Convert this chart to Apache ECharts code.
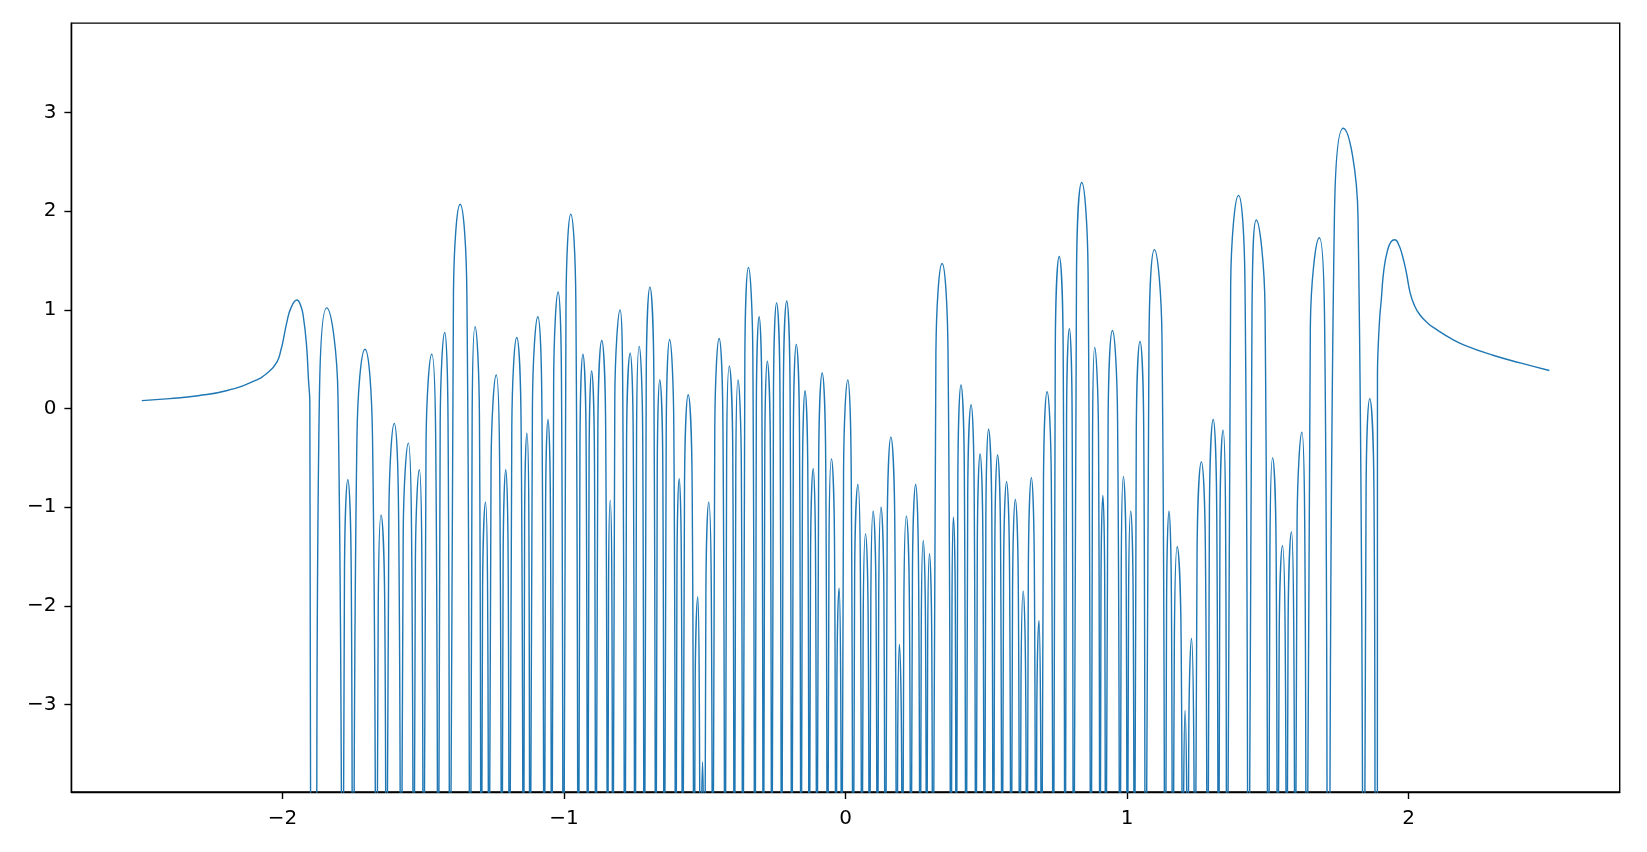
<!DOCTYPE html>
<html>
<head>
<meta charset="utf-8">
<script src="https://cdn.jsdelivr.net/npm/echarts@6/dist/echarts.min.js"></script>
<style>
html,body{margin:0;padding:0;background:#fff;}
#chart{width:1647px;height:852px;}
</style>
</head>
<body>
<div id="chart"></div>
<script>
// Tick labels
const xTicks = [-2, -1, 0, 1, 2];
const yTicks = [-3, -2, -1, 0, 1, 2, 3];

// Curve points [x, y] (dips below the axis drawn at -6)
const leftTail = [
  [-2.5,0.08],[-2.4,0.10],[-2.3,0.13],[-2.2,0.18],[-2.1,0.28],[-2.05,0.37],[-2.02,0.47],
  [-2.005,0.60],[-1.997,0.70],[-1.985,0.87],[-1.97,1.02],[-1.949,1.10],[-1.935,1.04],
  [-1.926,0.93],[-1.915,0.65],[-1.908,0.30],[-1.903,0.05],[-1.899,-6]
];
const lobes1 = [
  [-1.886,-6],[-1.869,0.12],[-1.843,1.02],[-1.803,0.12],
  [-1.786,-6],[-1.7799,-1.62],[-1.768,-0.72],[-1.7561,-1.62],
  [-1.750,-6],[-1.7357,-0.30],[-1.707,0.60],[-1.6803,-0.30],
  [-1.666,-6],[-1.660,-1.98],[-1.650,-1.08],[-1.637,-1.98],
  [-1.631,-6],[-1.6222,-1.05],[-1.603,-0.15],[-1.5878,-1.05],
  [-1.579,-6],[-1.5713,-1.25],[-1.553,-0.35],[-1.5417,-1.25],
  [-1.534,-6],[-1.528,-1.52],[-1.514,-0.62],[-1.505,-1.52],
  [-1.499,-6],[-1.4902,-0.35],[-1.470,0.55],[-1.4558,-0.35],
  [-1.447,-6],[-1.4399,-0.13],[-1.424,0.77],[-1.4121,-0.13],
  [-1.405,-6],[-1.3928,1.17],[-1.369,2.07],[-1.3452,1.17],
  [-1.333,-6],[-1.3264,-0.07],[-1.316,0.83],[-1.3006,-0.07],
  [-1.294,-6],[-1.2894,-1.85],[-1.279,-0.95],[-1.2716,-1.85],
  [-1.267,-6],[-1.2592,-0.56],[-1.241,0.34],[-1.2288,-0.56],
  [-1.221,-6],[-1.2164,-1.52],[-1.207,-0.62],[-1.1986,-1.52],
  [-1.194,-6],[-1.1855,-0.18],[-1.168,0.72],[-1.1525,-0.18],
  [-1.144,-6],[-1.1401,-1.15],[-1.132,-0.25],[-1.1249,-1.15],
  [-1.121,-6],[-1.1123,0.03],[-1.093,0.93],[-1.0787,0.03],
  [-1.070,-6],[-1.0656,-1.01],[-1.057,-0.11],[-1.0484,-1.01],
  [-1.044,-6],[-1.0369,0.28],[-1.021,1.18],[-1.0091,0.28]
];
const lobes2 = [
  [-1.002,-6],[-0.993,1.07],[-0.976,1.97],[-0.958,1.07],
  [-0.949,-6],[-0.9434,-0.35],[-0.933,0.55],[-0.9216,-0.35],
  [-0.916,-6],[-0.9111,-0.52],[-0.902,0.38],[-0.8919,-0.52],
  [-0.887,-6],[-0.8799,-0.21],[-0.866,0.69],[-0.8521,-0.21],
  [-0.845,-6],[-0.8419,-1.83],[-0.836,-0.93],[-0.8301,-1.83],
  [-0.827,-6],[-0.8197,0.10],[-0.801,1.00],[-0.7913,0.10],
  [-0.784,-6],[-0.7779,-0.34],[-0.765,0.56],[-0.7541,-0.34],
  [-0.748,-6],[-0.7424,-0.27],[-0.733,0.63],[-0.7206,-0.27],
  [-0.715,-6],[-0.708,0.33],[-0.695,1.23],[-0.681,0.33],
  [-0.674,-6],[-0.6689,-0.61],[-0.660,0.29],[-0.6491,-0.61],
  [-0.644,-6],[-0.637,-0.20],[-0.625,0.70],[-0.610,-0.20],
  [-0.603,-6],[-0.5989,-1.61],[-0.591,-0.71],[-0.5831,-1.61],
  [-0.579,-6],[-0.572,-0.76],[-0.559,0.14],[-0.545,-0.76],
  [-0.538,-6],[-0.5343,-2.81],[-0.525,-1.91],[-0.5197,-2.81],
  [-0.516,-6],[-0.5134,-4.48],[-0.508,-3.58],[-0.5036,-4.48],
  [-0.501,-6],[-0.4961,-1.85],[-0.486,-0.95],[-0.4769,-1.85],
  [-0.472,-6],[-0.4645,-0.19],[-0.449,0.71],[-0.4355,-0.19],
  [-0.428,-6],[-0.4224,-0.47],[-0.413,0.43],[-0.4006,-0.47],
  [-0.395,-6],[-0.3899,-0.61],[-0.382,0.29],[-0.3701,-0.61],
  [-0.365,-6],[-0.3577,0.53],[-0.345,1.43],[-0.3293,0.53],
  [-0.322,-6],[-0.3169,0.03],[-0.307,0.93],[-0.2971,0.03]
];
const lobes3 = [
  [-0.292,-6],[-0.2869,-0.42],[-0.278,0.48],[-0.2671,-0.42],
  [-0.262,-6],[-0.256,0.17],[-0.245,1.07],[-0.233,0.17],
  [-0.227,-6],[-0.2209,0.19],[-0.209,1.09],[-0.1971,0.19],
  [-0.191,-6],[-0.1854,-0.25],[-0.175,0.65],[-0.1636,-0.25],
  [-0.158,-6],[-0.1531,-0.72],[-0.144,0.18],[-0.1339,-0.72],
  [-0.129,-6],[-0.1244,-1.51],[-0.115,-0.61],[-0.1066,-1.51],
  [-0.102,-6],[-0.0955,-0.54],[-0.083,0.36],[-0.0705,-0.54],
  [-0.064,-6],[-0.0589,-1.41],[-0.050,-0.51],[-0.0391,-1.41],
  [-0.034,-6],[-0.0306,-2.72],[-0.023,-1.82],[-0.0174,-2.72],
  [-0.014,-6],[-0.007,-0.61],[0.008,0.29],[0.020,-0.61],
  [0.027,-6],[0.0323,-1.67],[0.044,-0.77],[0.0527,-1.67],
  [0.058,-6],[0.0626,-2.17],[0.071,-1.27],[0.0804,-2.17],
  [0.085,-6],[0.0898,-1.94],[0.098,-1.04],[0.1082,-1.94],
  [0.113,-6],[0.1178,-1.90],[0.126,-1.00],[0.1362,-1.90],
  [0.141,-6],[0.148,-1.19],[0.161,-0.29],[0.175,-1.19],
  [0.182,-6],[0.1854,-3.29],[0.191,-2.39],[0.1986,-3.29],
  [0.202,-6],[0.2071,-1.99],[0.216,-1.09],[0.2269,-1.99],
  [0.232,-6],[0.2376,-1.67],[0.249,-0.77],[0.2594,-1.67],
  [0.265,-6],[0.2689,-2.24],[0.276,-1.34],[0.2841,-2.24],
  [0.288,-6],[0.2917,-2.37],[0.298,-1.47],[0.3063,-2.37],
  [0.310,-6],[0.321,0.57],[0.343,1.47],[0.364,0.57],
  [0.375,-6],[0.3781,-2.00],[0.383,-1.10],[0.3899,-2.00]
];
const lobes4 = [
  [0.393,-6],[0.399,-0.66],[0.410,0.24],[0.422,-0.66],
  [0.428,-6],[0.434,-0.86],[0.446,0.04],[0.457,-0.86],
  [0.463,-6],[0.4681,-1.36],[0.478,-0.46],[0.4879,-1.36],
  [0.493,-6],[0.4984,-1.11],[0.508,-0.21],[0.5196,-1.11],
  [0.525,-6],[0.5303,-1.37],[0.540,-0.47],[0.5507,-1.37],
  [0.556,-6],[0.5614,-1.64],[0.572,-0.74],[0.5826,-1.64],
  [0.588,-6],[0.5933,-1.82],[0.603,-0.92],[0.6137,-1.82],
  [0.619,-6],[0.6233,-2.75],[0.631,-1.85],[0.6397,-2.75],
  [0.644,-6],[0.6494,-1.60],[0.660,-0.70],[0.6706,-1.60],
  [0.676,-6],[0.6794,-3.05],[0.687,-2.15],[0.6926,-3.05],
  [0.696,-6],[0.7031,-0.73],[0.716,0.17],[0.7309,-0.73],
  [0.738,-6],[0.7451,0.64],[0.759,1.54],[0.7729,0.64],
  [0.780,-6],[0.7851,-0.09],[0.795,0.81],[0.8049,-0.09],
  [0.810,-6],[0.8205,1.39],[0.839,2.29],[0.8615,1.39],
  [0.872,-6],[0.8774,-0.28],[0.885,0.62],[0.8986,-0.28],
  [0.904,-6],[0.9074,-1.78],[0.914,-0.88],[0.9206,-1.78],
  [0.924,-6],[0.9327,-0.11],[0.948,0.79],[0.9663,-0.11],
  [0.975,-6],[0.9794,-1.59],[0.987,-0.69],[0.9966,-1.59],
  [1.001,-6],[1.0053,-1.94],[1.013,-1.04],[1.0217,-1.94],
  [1.026,-6],[1.0328,-0.22],[1.046,0.68],[1.0592,-0.22]
];
const lobes5 = [
  [1.066,-6],[1.0779,0.71],[1.097,1.61],[1.1241,0.71],
  [1.136,-6],[1.1404,-1.94],[1.149,-1.04],[1.1576,-1.94],
  [1.162,-6],[1.1681,-2.30],[1.178,-1.40],[1.1919,-2.30],
  [1.198,-6],[1.2009,-3.96],[1.206,-3.06],[1.2121,-3.96],
  [1.215,-6],[1.2194,-3.23],[1.229,-2.33],[1.2366,-3.23],
  [1.241,-6],[1.2487,-1.44],[1.264,-0.54],[1.2783,-1.44],
  [1.286,-6],[1.2926,-1.01],[1.306,-0.11],[1.3184,-1.01],
  [1.325,-6],[1.3301,-1.12],[1.341,-0.22],[1.3499,-1.12],
  [1.355,-6],[1.3681,1.26],[1.396,2.16],[1.4189,1.26],
  [1.432,-6],[1.4439,1.01],[1.459,1.91],[1.4901,1.01],
  [1.502,-6],[1.5076,-1.40],[1.517,-0.50],[1.5294,-1.40],
  [1.535,-6],[1.5404,-2.29],[1.552,-1.39],[1.5616,-2.29],
  [1.567,-6],[1.5721,-2.15],[1.584,-1.25],[1.5919,-2.15],
  [1.597,-6],[1.604,-1.14],[1.621,-0.24],[1.631,-1.14],
  [1.638,-6],[1.6511,0.83],[1.683,1.73],[1.7019,0.83],
  [1.715,-6],[1.7366,1.94],[1.768,2.84],[1.8204,1.94],
  [1.842,-6],[1.8491,-0.80],[1.862,0.10],[1.8769,-0.80]
];
const rightTail = [
  [1.884,-6],[1.889,-6],[1.8895,0.33],[1.891,0.55],[1.897,0.90],[1.903,1.10],[1.912,1.40],
  [1.925,1.60],[1.938,1.69],[1.951,1.71],[1.965,1.66],[1.978,1.55],[1.992,1.38],
  [2.005,1.18],[2.02,1.05],[2.04,0.95],[2.07,0.86],[2.1,0.80],[2.15,0.71],[2.2,0.64],
  [2.3,0.54],[2.4,0.46],[2.5,0.385]
];

const curve = [].concat(leftTail, lobes1, lobes2, lobes3, lobes4, lobes5, rightTail);

const minus = v => String(v).replace('-', '\u2212');
const font = 'DejaVu Sans';

const chart = echarts.init(document.getElementById('chart'), null, {renderer: 'canvas', width: 1647, height: 852});
chart.setOption({
  animation: false,
  backgroundColor: '#ffffff',
  grid: {
    left: 71.4, right: 27.3, top: 23.1, bottom: 60,
    show: true, borderColor: '#000', borderWidth: 1.4, backgroundColor: 'transparent'
  },
  xAxis: {
    type: 'value', min: -2.75, max: 2.75,
    splitLine: {show: false},
    axisLine: {show: true, onZero: false, lineStyle: {color: '#000', width: 1.4}},
    axisTick: {show: true, length: 7, customValues: xTicks, lineStyle: {color: '#000', width: 1.4}},
    axisLabel: {customValues: xTicks, formatter: minus, color: '#000', fontSize: 20, fontFamily: font, margin: 17}
  },
  yAxis: {
    type: 'value', min: -3.885, max: 3.905,
    splitLine: {show: false},
    axisLine: {show: true, onZero: false, lineStyle: {color: '#000', width: 1.4}},
    axisTick: {show: true, length: 7, customValues: yTicks, lineStyle: {color: '#000', width: 1.4}},
    axisLabel: {customValues: yTicks, formatter: minus, color: '#000', fontSize: 20, fontFamily: font, margin: 15}
  },
  series: [{
    type: 'line',
    data: curve,
    showSymbol: false,
    smooth: 0.5,
    clip: true,
    lineStyle: {color: '#1f77b4', width: 1.4},
    silent: true
  }]
});
</script>
</body>
</html>
